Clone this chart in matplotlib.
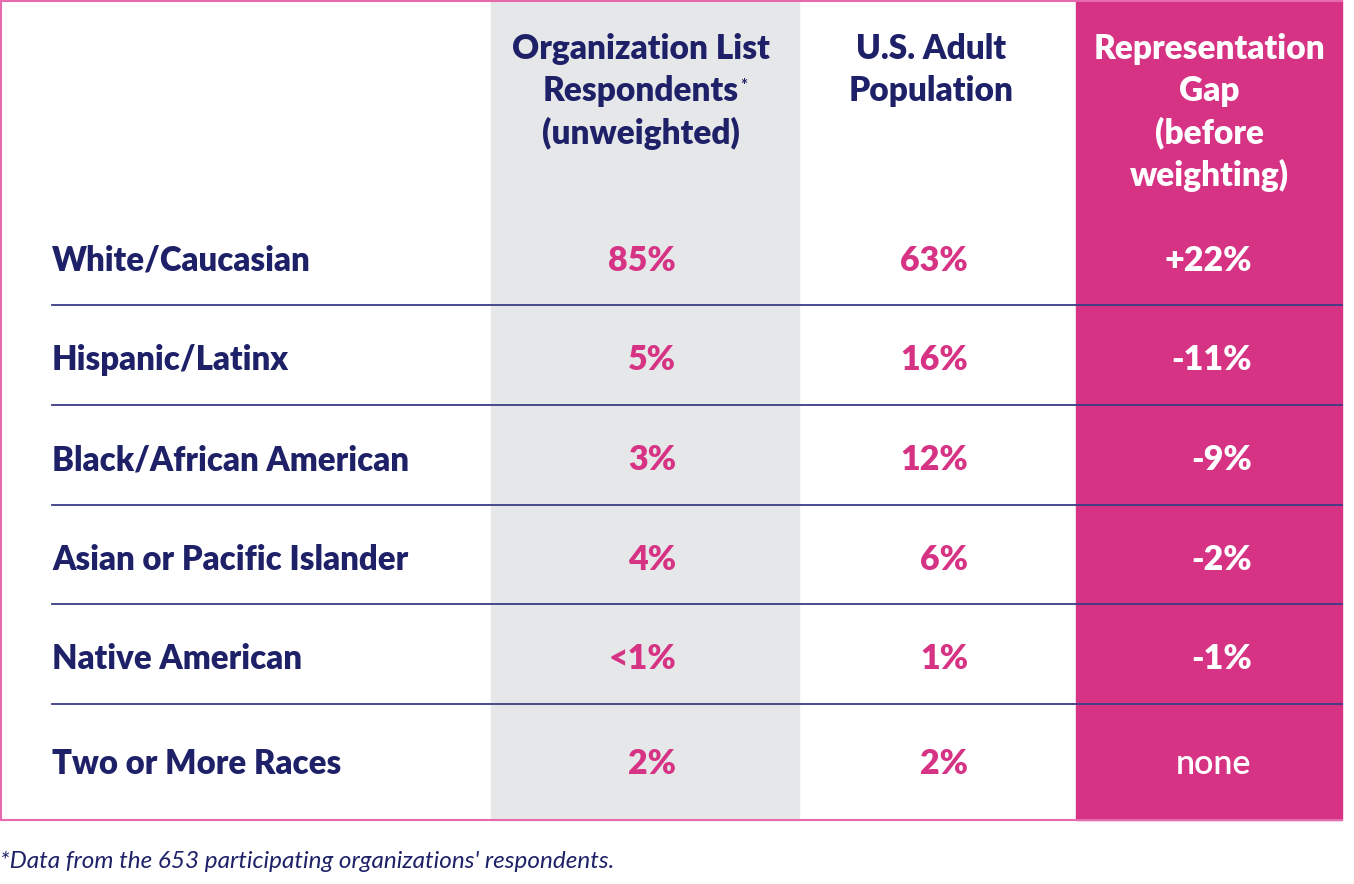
import matplotlib
matplotlib.use("Agg")
import matplotlib.pyplot as plt
from matplotlib.patches import Rectangle

# ---- data ----
categories = ["White/Caucasian", "Hispanic/Latinx", "Black/African American",
              "Asian or Pacific Islander", "Native American", "Two or More Races"]
org_respondents = ["85%", "5%", "3%", "4%", "<1%", "2%"]
us_population = ["63%", "16%", "12%", "6%", "1%", "2%"]
representation_gap = ["+22%", "-11%", "-9%", "-2%", "-1%", "none"]
headers = [["Organization List", "Respondents", "(unweighted)"],
           ["U.S. Adult", "Population"],
           ["Representation", "Gap", "(before", "weighting)"]]
footnote = "*Data from the 653 participating organizations' respondents."

NAVY = "#1E2167"
PINK = "#D63384"
PINK_BG = "#D63384"
GRAY_BG = "#E6E7E8"
LINE = "#3A3C85"
BORDER = "#E86AAE"

W, H = 1354, 884
fig = plt.figure(figsize=(W / 100, H / 100), dpi=100)
ax = fig.add_axes([0, 0, 1, 1])
ax.set_xlim(0, W)
ax.set_ylim(H, 0)
ax.axis("off")

FONT = "Lato"
WEIGHT = "heavy"
# column geometry
gray_x0, gray_x1 = 491, 799
pink_x0, pink_x1 = 1076, 1342
table_bottom = 820

ax.add_patch(Rectangle((gray_x0, 0), gray_x1 - gray_x0, table_bottom, color=GRAY_BG, zorder=0))
ax.add_patch(Rectangle((pink_x0, 0), pink_x1 - pink_x0, table_bottom, color=PINK_BG, zorder=0))
# border
ax.plot([1, 1], [0, table_bottom], color=BORDER, lw=1.5, zorder=1)
ax.plot([0, pink_x1], [0.7, 0.7], color=BORDER, lw=1.5, zorder=1)
ax.plot([0, pink_x1], [table_bottom, table_bottom], color=BORDER, lw=1.5, zorder=1)

# headers
head_centers = [641, 931, 1209]
head_colors = [NAVY, NAVY, "white"]
line_gap = 42
head_y0 = 49
fs_head = 24
for ci, lines in enumerate(headers):
    for li, txt in enumerate(lines):
        t = ax.text(head_centers[ci], head_y0 + li * line_gap, txt, ha="center", va="center",
                    fontsize=fs_head, fontweight=WEIGHT, family=FONT, color=head_colors[ci])
        if ci == 0 and li == 1:
            fig.canvas.draw()
            bb = t.get_window_extent()
            fig.text(bb.x1 / W + 0.0005, (bb.y1 - 3) / H, "*", fontsize=12, family=FONT,
                     color=NAVY, ha="left", va="top", fontweight="bold")

# rows
row_y = [261 + 99.5 * i for i in range(len(categories))]
row_y[-1] = 764
fs_row = 23.7
fs_val = 24.5
for i, cat in enumerate(categories):
    y = row_y[i]
    ax.text(52, y, cat, ha="left", va="center", fontsize=fs_row, fontweight=WEIGHT,
            family=FONT, color=NAVY)
    ax.text(676, y, org_respondents[i], ha="right", va="center", fontsize=fs_val,
            fontweight=WEIGHT, family=FONT, color=PINK)
    ax.text(968, y, us_population[i], ha="right", va="center", fontsize=fs_val,
            fontweight=WEIGHT, family=FONT, color=PINK)
    gap = representation_gap[i]
    if gap == "none":
        ax.text(1213, y, gap, ha="center", va="center", fontsize=fs_val,
                fontweight="semibold", family=FONT, color="white")
    else:
        ax.text(1252, y, gap, ha="right", va="center", fontsize=fs_val,
                fontweight=WEIGHT, family=FONT, color="white")
    if i < len(categories) - 1:
        ly = 305 + 99.8 * i
        ax.plot([52, pink_x1], [ly, ly], color=LINE, lw=1.3, zorder=2)

ax.text(0, 862, footnote, ha="left", va="center", fontsize=17.5, style="italic",
        family=FONT, color=NAVY)

fig.savefig("out.png", dpi=100)
